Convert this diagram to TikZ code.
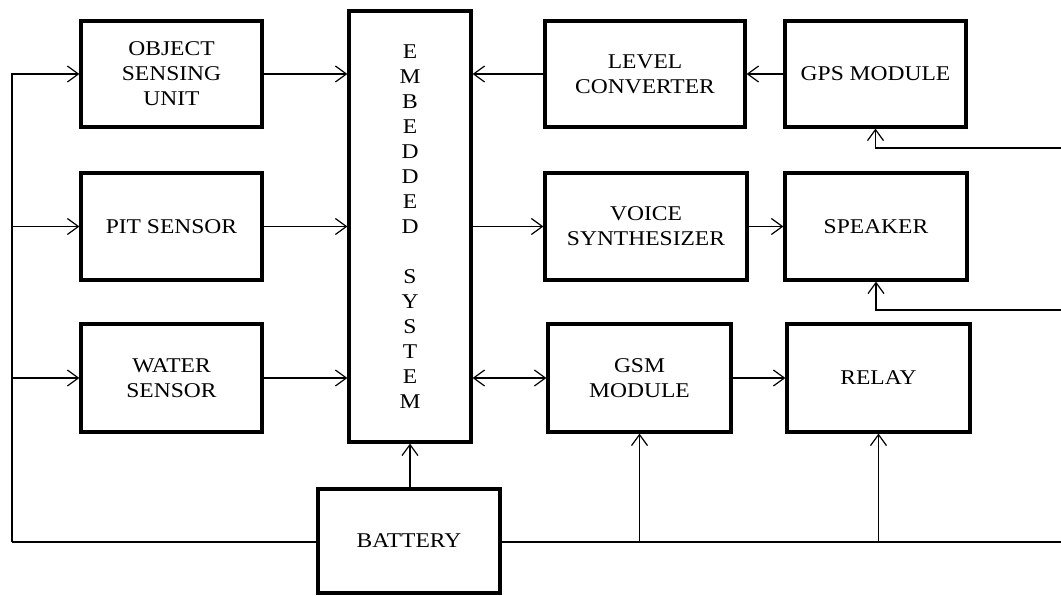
\documentclass[tikz,border=0pt]{standalone}
\usepackage{fontspec}
\setmainfont{Liberation Serif}[FakeStretch=1.12]
\usetikzlibrary{arrows.meta}
\tikzset{
  blk/.style={draw, line width=3.2pt, rectangle, inner sep=0pt, align=center,
    font=\fontsize{21}{25}\selectfont},
  tip/.tip={Straight Barb[length=11pt,width=16pt,line width=1.2pt]},
  conn/.style={line width=1.2pt},
  arr/.style={conn, -tip},
  darr/.style={conn, tip-tip}
}
\begin{document}
\begin{tikzpicture}[x=1pt,y=-1pt]
\useasboundingbox (0,0) rectangle (1061,596);
% boxes
\node[blk, minimum width=181pt, minimum height=106pt] (obj) at (171.5,74) {OBJECT\\SENSING\\UNIT};
\node[blk, minimum width=181pt, minimum height=107pt] (pit) at (171.5,226.5) {PIT SENSOR};
\node[blk, minimum width=181pt, minimum height=108pt] (water) at (171.5,378) {WATER\\SENSOR};
\node[blk, minimum width=122pt, minimum height=431pt] (es) at (410,226.5)
  {E\\M\\B\\E\\D\\D\\E\\D\\[25pt]S\\Y\\S\\T\\E\\M};
\node[blk, minimum width=200pt, minimum height=106pt] (lc) at (645,74) {LEVEL\\CONVERTER};
\node[blk, minimum width=181pt, minimum height=106pt] (gps) at (875.5,74) {GPS MODULE};
\node[blk, minimum width=202pt, minimum height=107pt] (vs) at (646,226.5) {VOICE\\SYNTHESIZER};
\node[blk, minimum width=182pt, minimum height=107pt] (spk) at (876,226.5) {SPEAKER};
\node[blk, minimum width=183pt, minimum height=108pt] (gsm) at (639.5,378) {GSM\\MODULE};
\node[blk, minimum width=183pt, minimum height=108pt] (relay) at (878.5,378) {RELAY};
\node[blk, minimum width=182pt, minimum height=104pt] (bat) at (409,541) {BATTERY};
% bus coordinates
\coordinate (bl) at (12,542);
\coordinate (br) at (1061,542);
\coordinate (gf) at (1061,148);
\coordinate (sf) at (1061,310);
% left bus
\draw[conn] (bat.west |- bl) -- (bl);
\draw[arr] (bl) |- (obj.west);
\draw[arr] (bl) |- (pit.west);
\draw[arr] (bl) |- (water.west);
% right bus
\draw[conn] (bat.east |- br) -- (br);
\draw[arr] (gsm.south |- br) -- (gsm.south);
\draw[arr] (relay.south |- br) -- (relay.south);
\draw[arr] (gf) -| (gps.south);
\draw[arr] (sf) -| (spk.south);
% sensors to embedded system
\draw[arr] (obj.east) -- (obj.east -| es.west);
\draw[arr] (pit.east) -- (pit.east -| es.west);
\draw[arr] (water.east) -- (water.east -| es.west);
\draw[arr] (es.south |- bat.north) -- (es.south);
% right side
\draw[arr] (gps.west) -- (lc.east);
\draw[arr] (lc.west) -- (lc.west -| es.east);
\draw[arr] (vs.west -| es.east) -- (vs.west);
\draw[arr] (vs.east) -- (spk.west);
\draw[darr] (gsm.west -| es.east) -- (gsm.west);
\draw[arr] (gsm.east) -- (relay.west);
\end{tikzpicture}
\end{document}
